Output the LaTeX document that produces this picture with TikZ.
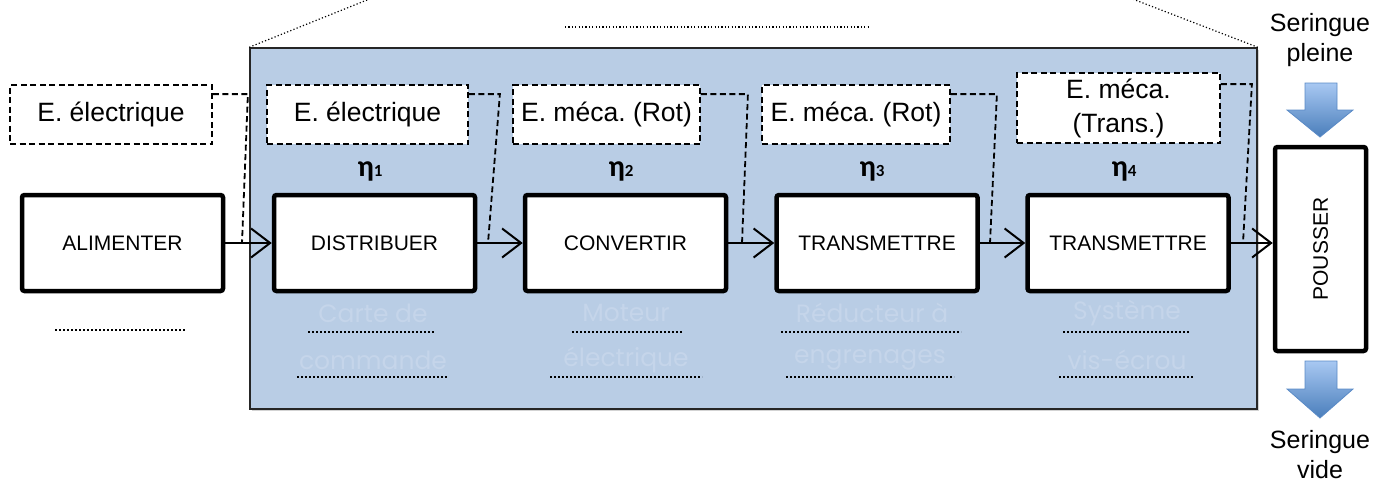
\documentclass[tikz,border=0pt]{standalone}
\usepackage{fontspec}
\setmainfont{Liberation Sans}
\newfontfamily\etafont{Carlito}
\newfontfamily\handfont{Poppins}
\usetikzlibrary{arrows.meta,shadows}
\frenchspacing
\definecolor{bgblue}{HTML}{B9CDE5}
\definecolor{handc}{HTML}{C5D5EA}
\definecolor{arrtop}{HTML}{A8C8F2}
\definecolor{arrbot}{HTML}{4A7EBB}
\definecolor{arredge}{HTML}{5A8AC6}
\tikzset{
 fbox/.style={draw, line width=4.5pt, rounded corners=2.5pt, fill=white, minimum width=201pt, minimum height=96pt, inner sep=0pt, font=\fontsize{21}{25}\selectfont,
   drop shadow={shadow xshift=1.5pt, shadow yshift=-1.5pt, opacity=0.25}},
 ebox/.style={draw, line width=1.8pt, dash pattern=on 6pt off 3.5pt, fill=white, minimum height=59pt, inner sep=0pt, font=\fontsize{26.5}{34}\selectfont, align=center},
 flow/.style={line width=2pt, -{Straight Barb[length=19pt,width=29pt,line width=2pt]}},
 dconn/.style={line width=1.8pt, dash pattern=on 6pt off 3.5pt},
 eta/.style={font=\etafont\bfseries\fontsize{30}{32}\selectfont},
 hand/.style={text=handc, font=\handfont\fontsize{25}{30}\selectfont},
 blankline/.style={line width=2pt, dash pattern=on 2pt off 2pt},
 guide/.style={line width=1.2pt, dash pattern=on 1.2pt off 2.2pt},
 label/.style={font=\fontsize{25}{30}\selectfont, align=center},
 blockarrow/.style={top color=arrtop, bottom color=arrbot, draw=arredge, line width=0.8pt},
}
\begin{document}
\begin{tikzpicture}[x=1pt,y=-1pt]
\useasboundingbox (0,0) rectangle (1388,483);
% system frame
\node[draw=black!85, line width=1.5pt, fill=bgblue, minimum width=1007pt, minimum height=361pt, inner sep=0pt,
      drop shadow={shadow xshift=2pt, shadow yshift=-2pt, opacity=0.35}] (sys) at (753.5,228.5) {};
\draw[guide] (sys.north west) -- (372,-2);
\draw[guide] (sys.north east) -- (1130,-2);
\draw[guide] (565,27) -- (870,27);

% function boxes
\node[fbox] (ali) at (122.5,243) {ALIMENTER};
\node[fbox] (dis) at (374.5,243) {DISTRIBUER};
\node[fbox] (con) at (625.5,243) {CONVERTIR};
\node[fbox] (tr1) at (877,243) {TRANSMETTRE};
\node[fbox] (tr2) at (1128,243) {TRANSMETTRE};
\node[fbox, minimum width=91pt, minimum height=204pt] (pou) at (1320.5,249) {};
\node[rotate=90, font=\fontsize{21}{25}\selectfont] (poutxt) at (pou.center) {POUSSER};

% energy boxes
\node[ebox, minimum width=202pt] (e0) at (111,114.5) {E. électrique};
\node[ebox, minimum width=201pt] (e1) at (367.5,114.5) {E. électrique};
\node[ebox, minimum width=187pt] (e2) at (606.5,114.5) {E. méca. (Rot)};
\node[ebox, minimum width=188pt] (e3) at (856,114.5) {E. méca. (Rot)};
\node[ebox, minimum width=203pt, minimum height=70pt] (e4) at (1118.5,108) {E. méca.\\(Trans.)};

% efficiencies
\node[eta] (n1) at (370,171) {η{\fontsize{17}{18}\selectfont 1}};
\node[eta] (n2) at (621,171) {η{\fontsize{17}{18}\selectfont 2}};
\node[eta] (n3) at (872,171) {η{\fontsize{17}{18}\selectfont 3}};
\node[eta] (n4) at (1124,171) {η{\fontsize{17}{18}\selectfont 4}};

% flow arrows
\draw[flow] (ali.east) -- (dis.west);
\draw[flow] (dis.east) -- (con.west);
\draw[flow] (con.east) -- (tr1.west);
\draw[flow] (tr1.east) -- (tr2.west);
\draw[flow] (tr2.east) -- (pou.west |- tr2.east);

% dashed links from energy boxes to flows
\coordinate (k0) at (242,243);
\coordinate (k1) at (488,243);
\coordinate (k2) at (742,243);
\coordinate (k3) at (990,243);
\coordinate (k4) at (1243,243);
\draw[dconn] ([yshift=-10pt]e0.north east) -- ++(35,0) -- (k0);
\draw[dconn] ([yshift=-10pt]e1.north east) -- ++(31,0) -- (k1);
\draw[dconn] ([yshift=-10pt]e2.north east) -- ++(47,0) -- (k2);
\draw[dconn] ([yshift=-10pt]e3.north east) -- ++(46,0) -- (k3);
\draw[dconn] ([yshift=-12pt]e4.north east) -- ++(31,0) -- (k4);

% components (faint answers) and blanks
\node[hand] (h1a) at (373,313) {Carte de};
\node[hand] (h1b) at (373,360) {commande};
\node[hand] (h2a) at (626,313) {Moteur};
\node[hand] (h2b) at (626,360) {électrique};
\node[hand] (h3a) at (872,313) {Réducteur à};
\node[hand] (h3b) at (870,360) {engrenages};
\node[hand] (h4a) at (1127,313) {Système};
\node[hand] (h4b) at (1127,360) {vis-écrou};
\draw[blankline] (308,332) -- (435,332);
\draw[blankline] (297,377) -- (447,377);
\draw[blankline] (572,332) -- (682,332);
\draw[blankline] (550,377) -- (702,377);
\draw[blankline] (781,332) -- (961,332);
\draw[blankline] (786,377) -- (954,377);
\draw[blankline] (1063,332) -- (1190,332);
\draw[blankline] (1059,377) -- (1194,377);
\draw[blankline] (55,330) -- (185,330);

% syringe arrows and labels
\shade[blockarrow] (1305,83) -- (1337,83) -- (1337,110) -- (1353,110) -- (1320,137) -- (1287,110) -- (1305,110) -- cycle;
\shade[blockarrow] (1305,361) -- (1337,361) -- (1337,389) -- (1353,389) -- (1320,418) -- (1287,389) -- (1305,389) -- cycle;
\node[label] (s1) at (1320,40) {Seringue\\pleine};
\node[label] (s2) at (1320,455) {Seringue\\vide};
\end{tikzpicture}
\end{document}
